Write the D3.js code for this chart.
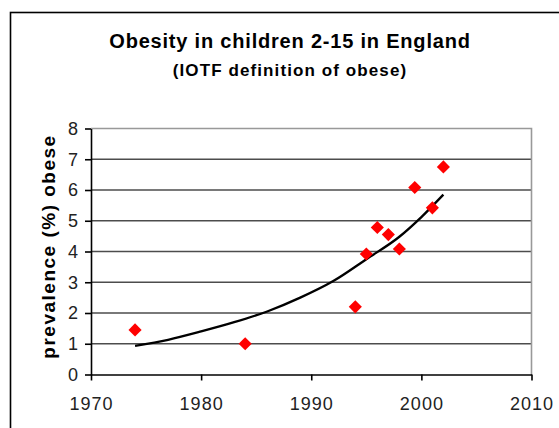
<!DOCTYPE html>
<html>
<head>
<script src="https://d3js.org/d3.v7.min.js"></script>
<style>
  body { margin: 0; background: #fff; }
  svg { display: block; font-family: "Liberation Sans", Arial, sans-serif; }
  .grid line { stroke: #4d4d4d; stroke-width: 1.6px; }
  .tick text { fill: #222; }
</style>
</head>
<body>
<div id="chart"></div>
<script>
// survey years and prevalence (%)
var years = [1974, 1984, 1994, 1995, 1996, 1997, 1998, 1999.4, 2001, 2002];
var prevalence = [1.45, 1.0, 2.2, 3.92, 4.78, 4.55, 4.08, 6.08, 5.42, 6.75];

// fitted trend line
var trendYears = [1974, 1977, 1980, 1983, 1986, 1989, 1992, 1995, 1998, 2000, 2002];
var trendValues = [0.93, 1.13, 1.40, 1.70, 2.05, 2.5, 3.04, 3.75, 4.48, 5.12, 5.85];

var xTicks = [1970, 1980, 1990, 2000, 2010];
var yTicks = [0, 1, 2, 3, 4, 5, 6, 7, 8];

var W = 559, H = 428;
var margin = { top: 128.5, right: 27.5, bottom: 53.5, left: 91 },
    width = W - margin.left - margin.right,
    height = H - margin.top - margin.bottom;

var svg = d3.select("#chart").append("svg")
    .attr("width", W)
    .attr("height", H);

// outer chart frame (runs off the right and bottom)
svg.append("rect")
    .attr("x", 10.5).attr("y", 12.5)
    .attr("width", 700).attr("height", 600)
    .style("fill", "none")
    .style("stroke", "#000")
    .style("stroke-width", 1.6);

svg.append("text")
    .attr("x", 290).attr("y", 48)
    .style("text-anchor", "middle")
    .style("font-weight", "bold")
    .style("font-size", "20px")
    .style("letter-spacing", "0.8px")
    .text("Obesity in children 2-15 in England");

svg.append("text")
    .attr("x", 290).attr("y", 76)
    .style("text-anchor", "middle")
    .style("font-weight", "bold")
    .style("font-size", "17px")
    .style("letter-spacing", "1.1px")
    .text("(IOTF definition of obese)");

var g = svg.append("g")
    .attr("transform", "translate(" + margin.left + "," + margin.top + ")");

var x = d3.scaleLinear().domain([1970, 2010]).range([0, width]);
var y = d3.scaleLinear().domain([0, 8]).range([height, 0]);

// horizontal gridlines
g.append("g").attr("class", "grid")
    .selectAll("line")
    .data(yTicks.slice(1, -1))
    .enter().append("line")
    .attr("x1", 0).attr("x2", width)
    .attr("y1", function(d) { return y(d); })
    .attr("y2", function(d) { return y(d); });

// plot area top and right edge
g.append("path")
    .attr("d", "M0," + y(8) + "H" + width + "V" + height)
    .style("fill", "none")
    .style("stroke", "#999")
    .style("stroke-width", 1.6);

var xAxis = g.append("g")
    .attr("transform", "translate(0," + height + ")")
    .call(d3.axisBottom(x).tickValues(xTicks).tickFormat(d3.format("d"))
        .tickSize(6).tickSizeOuter(0).tickPadding(17));
var yAxis = g.append("g")
    .call(d3.axisLeft(y).tickValues(yTicks).tickSize(6).tickSizeOuter(0).tickPadding(6));

[xAxis, yAxis].forEach(function(a) {
    a.selectAll("path, line").style("stroke", "#000").style("stroke-width", 1.6);
    a.selectAll("text")
        .style("font-size", "18px")
        .style("letter-spacing", "1px")
        .style("font-family", "'Liberation Sans', Arial, sans-serif");
});

// trend line
var line = d3.line()
    .x(function(d) { return x(d[0]); })
    .y(function(d) { return y(d[1]); })
    .curve(d3.curveMonotoneX);

g.append("path")
    .datum(d3.zip(trendYears, trendValues))
    .attr("d", line)
    .style("fill", "none")
    .style("stroke", "#000")
    .style("stroke-width", 2.3);

// data points as red diamonds
g.selectAll(".pt")
    .data(d3.zip(years, prevalence))
    .enter().append("path")
    .attr("class", "pt")
    .attr("transform", function(d) { return "translate(" + x(d[0]) + "," + y(d[1]) + ")"; })
    .attr("d", d3.symbol().type(d3.symbolDiamond2).size(110))
    .style("fill", "#ff0000");

// y axis title
svg.append("text")
    .attr("transform", "translate(55," + (margin.top + height / 2 - 5) + ") rotate(-90)")
    .style("text-anchor", "middle")
    .style("font-weight", "bold")
    .style("font-size", "19px")
    .style("letter-spacing", "1.5px")
    .text("prevalence (%) obese");
</script>
</body>
</html>
